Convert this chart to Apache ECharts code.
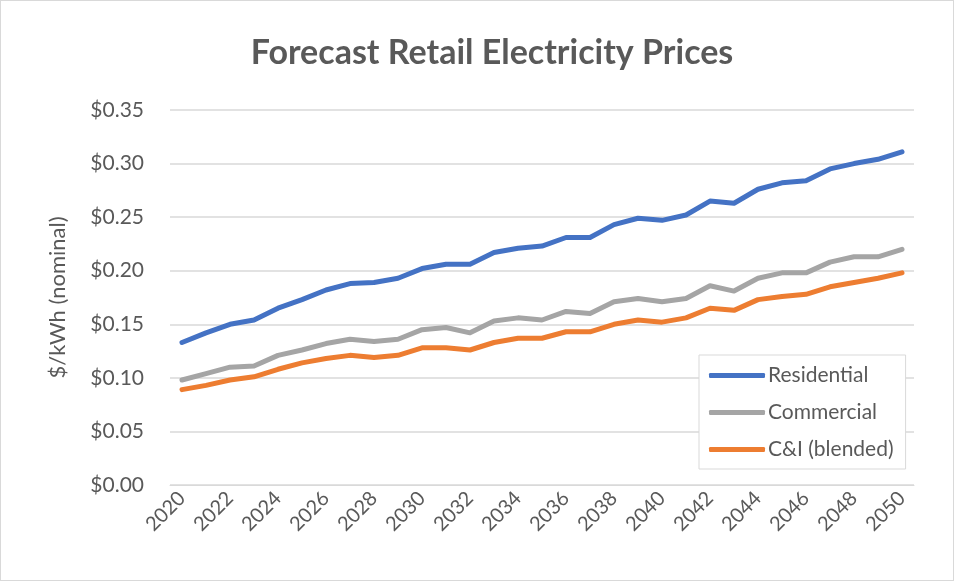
<!DOCTYPE html>
<html lang="en">
<head>
    <meta charset="UTF-8">
    <title>Forecast Retail Electricity Prices</title>
    <script src="https://cdn.jsdelivr.net/npm/echarts@6/dist/echarts.min.js"></script>
    <style>
        html, body { margin: 0; padding: 0; background: #fff; }
        #main { width: 952px; height: 579px; border: 1px solid #d9d9d9; }
    </style>
</head>
<body>
<div id="main"></div>
<script type="text/javascript">
    // data
    var years = []
    for (var y = 2020; y <= 2050; y++) years.push(String(y))

    var residential = [0.133, 0.142, 0.150, 0.154, 0.165, 0.173, 0.182, 0.188, 0.189, 0.193,
        0.202, 0.206, 0.206, 0.217, 0.221, 0.223, 0.231, 0.231, 0.243, 0.249,
        0.247, 0.252, 0.265, 0.263, 0.276, 0.282, 0.284, 0.295, 0.300, 0.304, 0.311]
    var commercial = [0.098, 0.104, 0.110, 0.111, 0.121, 0.126, 0.132, 0.136, 0.134, 0.136,
        0.145, 0.147, 0.142, 0.153, 0.156, 0.154, 0.162, 0.160, 0.171, 0.174,
        0.171, 0.174, 0.186, 0.181, 0.193, 0.198, 0.198, 0.208, 0.213, 0.213, 0.220]
    var blended = [0.089, 0.093, 0.098, 0.101, 0.108, 0.114, 0.118, 0.121, 0.119, 0.121,
        0.128, 0.128, 0.126, 0.133, 0.137, 0.137, 0.143, 0.143, 0.150, 0.154,
        0.152, 0.156, 0.165, 0.163, 0.173, 0.176, 0.178, 0.185, 0.189, 0.193, 0.198]
    var seriesNames = ['Residential', 'Commercial', 'C&I (blended)']
    var colors = ['#4472C4', '#A5A5A5', '#ED7D31']

    var chart = echarts.init(document.getElementById('main'))
    var font = 'Lato, "Open Sans", sans-serif'

    function lineSeries(name, data, color) {
        return {
            name: name,
            type: 'line',
            data: data,
            symbol: 'none',
            smooth: false,
            lineStyle: { width: 5, color: color, cap: 'round', join: 'round' },
            itemStyle: { color: color }
        }
    }

    var option = {
        animation: false,
        textStyle: { fontFamily: font },
        title: {
            text: 'Forecast Retail Electricity Prices',
            left: 486,
            textAlign: 'center',
            top: 30,
            textStyle: { fontSize: 34, fontWeight: 'bold', color: '#595959', fontFamily: font }
        },
        legend: {
            orient: 'vertical',
            left: 698,
            top: 354,
            padding: [10, 12, 9, 10],
            itemWidth: 56,
            itemHeight: 5,
            itemGap: 16,
            icon: 'roundRect',
            borderColor: '#d9d9d9',
            borderWidth: 1,
            backgroundColor: '#fff',
            textStyle: { fontSize: 21, color: '#595959', fontFamily: font, padding: [0, 0, 0, -2] },
            data: seriesNames
        },
        grid: { left: 169, right: 39, top: 109, bottom: 95 },
        xAxis: {
            type: 'category',
            data: years,
            boundaryGap: true,
            axisLine: { lineStyle: { color: '#d9d9d9', width: 1 } },
            axisTick: { show: false },
            axisLabel: {
                interval: 1,
                rotate: 45,
                fontSize: 20,
                color: '#595959',
                margin: 10
            }
        },
        yAxis: {
            type: 'value',
            min: 0,
            max: 0.35,
            interval: 0.05,
            name: '$/kWh (nominal)',
            nameLocation: 'middle',
            nameGap: 101,
            nameTextStyle: { fontSize: 22, color: '#595959' },
            axisLine: { show: false },
            axisTick: { show: false },
            splitLine: { lineStyle: { color: '#d9d9d9', width: 1.5 } },
            axisLabel: {
                fontSize: 21,
                color: '#595959',
                margin: 26,
                formatter: function (v) { return '$' + v.toFixed(2) }
            }
        },
        series: [
            lineSeries(seriesNames[0], residential, colors[0]),
            lineSeries(seriesNames[1], commercial, colors[1]),
            lineSeries(seriesNames[2], blended, colors[2])
        ]
    }

    chart.setOption(option)
</script>
</body>
</html>
